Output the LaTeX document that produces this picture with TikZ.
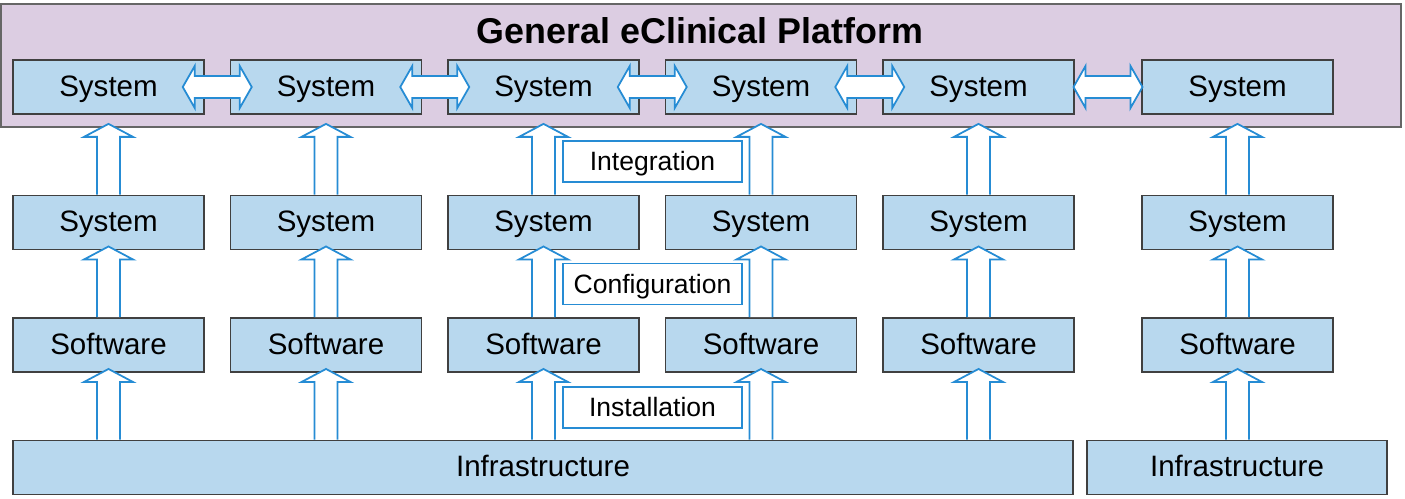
\documentclass[tikz,border=0pt]{standalone}
\usepackage{fontspec}
\setmainfont{Liberation Sans}
\usetikzlibrary{positioning,calc}

\definecolor{layerblue}{RGB}{184,216,238}
\definecolor{platlilac}{RGB}{220,205,226}
\definecolor{flowblue}{RGB}{38,140,212}

% block arrow pointing up, from a lower point to an upper one
\newcommand{\liftarrow}[2]{%
  \draw[blockarrow] ($(#1)+(-11.5,0)$) -- ($(#2)+(-11.5,9)$) -- ($(#2)+(-24.5,9)$)
    -- ($(#2)+(0,-4)$) -- ($(#2)+(24.5,9)$) -- ($(#2)+(11.5,9)$) -- ($(#1)+(11.5,0)$);}
% two-headed block arrow between neighbouring boxes
\newcommand{\linkarrow}[2]{%
  \draw[blockarrow] ($(#1.east)!.5!(#2.west)+(-34.5,0)$) -- ++(12,-21) -- ++(0,10)
    -- ++(45,0) -- ++(0,-10) -- ++(12,21) -- ++(-12,21) -- ++(0,-10) -- ++(-45,0)
    -- ++(0,10) -- cycle;}

\begin{document}
\begin{tikzpicture}[
  x=.02cm,y=-.02cm,
  font=\fontsize{16.8}{20}\selectfont,
  layerbox/.style={draw=black!75,line width=1.1pt,fill=layerblue,inner sep=0pt,
    minimum width=3.82cm,minimum height=1.08cm,text height=12pt,text depth=1.5pt},
  stepnote/.style={draw=flowblue,line width=1pt,fill=white,inner sep=0pt,
    minimum width=3.58cm,minimum height=.82cm,text height=11pt,text depth=.2pt,
    font=\fontsize{15.1}{18}\selectfont},
  blockarrow/.style={draw=flowblue,fill=white,line width=1pt,line join=miter}
]
\useasboundingbox (0,0) rectangle (1405,498);
\node[draw=black!60,fill=platlilac,line width=1pt,inner sep=0pt,
  minimum width=28cm,minimum height=2.46cm] (plat) at (701,65.5) {};
\node[font=\bfseries\fontsize{20.4}{24}\selectfont,anchor=base] (title) at (700,43)
  {General eClinical Platform};

\foreach \col/\cx in {1/108.5,2/326,3/543.5,4/761,5/978.5,6/1237.5} {
  \node[layerbox] (top\col) at (\cx,87) {System};
  \node[layerbox] (sys\col) at (\cx,222.5) {System};
  \node[layerbox] (sw\col) at (\cx,345) {Software};
}
\node[layerbox,minimum width=21.2cm] (infraA) at (543,467.5) {Infrastructure};
\node[layerbox,minimum width=6cm] (infraB) at (1237,467.5) {Infrastructure};

\node[stepnote] (integ) at (652.5,161.5) {Integration};
\node[stepnote] (config) at (652.5,284) {Configuration};
\node[stepnote] (instal) at (652.5,407.5) {Installation};

\foreach \a/\b in {1/2,2/3,3/4,4/5,5/6}
  \linkarrow{top\a}{top\b};
\foreach \col in {1,...,6} {
  \liftarrow{sys\col.north}{sys\col.north |- plat.south}
  \liftarrow{sw\col.north}{sys\col.south}
}
\foreach \col in {1,...,5}
  \liftarrow{sw\col.south |- infraA.north}{sw\col.south};
\liftarrow{sw6.south |- infraB.north}{sw6.south}
\end{tikzpicture}
\end{document}
